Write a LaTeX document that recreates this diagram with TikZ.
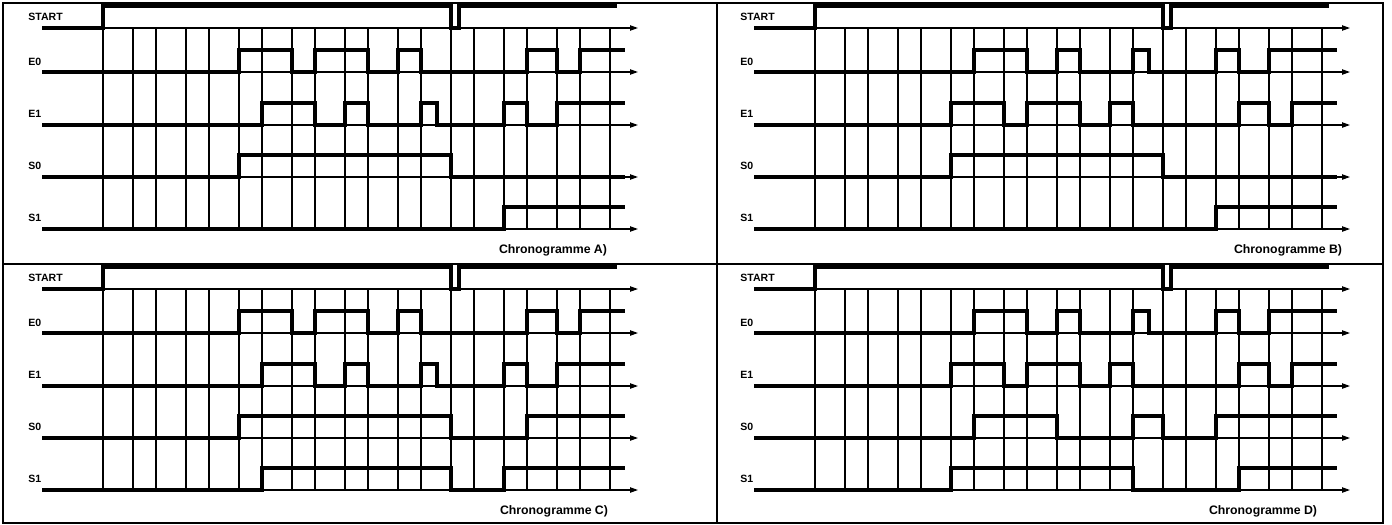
\documentclass[tikz,border=0pt]{standalone}
\usepackage{fontspec}
\setmainfont{Liberation Sans}
\usetikzlibrary{arrows.meta}

\tikzset{
  frame/.style={black, line width=0.8pt},
  tick/.style={black, line width=0.8pt},
  axis/.style={black, line width=0.7pt, -{Triangle[length=4.5pt,width=3pt]}},
  sig/.style={black, line width=2pt, line join=miter},
  lbl/.style={font=\fontsize{6}{7}\selectfont\bfseries, anchor=west, inner sep=0pt},
  caption/.style={font=\fontsize{7}{8}\selectfont\bfseries, inner sep=0pt}
}

\begin{document}
\begin{tikzpicture}[x=0.02cm, y=-0.02cm]
  \useasboundingbox (0,0) rectangle (1392,524);
  \draw[frame] (3,3) rectangle (1383,523);
  \draw[frame] (717,3) -- (717,523);
  \draw[frame] (3,264) -- (1383,264);

  \foreach \dx/\dy/\p/\cx in {0/0/A/553, 712/0/B/576, 0/261/C/554, 712/261/D/551} {
    \begin{scope}[shift={(\dx,\dy)}]
      \node[lbl] (start\p) at (28,17) {START};
      \node[lbl] (ezero\p) at (28,62) {E0};
      \node[lbl] (eone\p) at (28,114) {E1};
      \node[lbl] (szero\p) at (28,166) {S0};
      \node[lbl] (sone\p) at (28,218) {S1};
      \node[caption] (chrono\p) at (\cx,250) {Chronogramme \p)};
      \foreach \k in {0,...,9} {
        \draw[tick] (103+53*\k,28) -- (103+53*\k,229);
        \draw[tick] (133+53*\k,28) -- (133+53*\k,229);
      }
      \foreach \y in {28,72,125,177,229}
        \draw[axis] (42,\y) -- (638,\y);
      \draw[sig] (42,28) -| (103,6) -| (451,28) -| (459,6) -- (617,6);
    \end{scope}
  }

  % A
  \draw[sig] (42,72) -| (239,50) -| (292,72) -| (315,50) -| (368,72) -| (398,50) -| (421,72) -| (527,50) -| (557,72) -| (580,50) -- (625,50);
  \draw[sig] (42,125) -| (262,103) -| (315,125) -| (345,103) -| (368,125) -| (421,103) -| (437,125) -| (504,103) -| (527,125) -| (557,103) -- (625,103);
  \draw[sig] (42,177) -| (239,155) -| (451,177) -- (625,177);
  \draw[sig] (42,229) -| (504,207) -- (625,207);

  % B
  \begin{scope}[xshift=712*0.02cm]
    \draw[sig] (42,72) -| (262,50) -| (315,72) -| (345,50) -| (368,72) -| (421,50) -| (437,72) -| (504,50) -| (527,72) -| (557,50) -- (625,50);
    \draw[sig] (42,125) -| (239,103) -| (292,125) -| (315,103) -| (368,125) -| (398,103) -| (421,125) -| (527,103) -| (557,125) -| (580,103) -- (625,103);
    \draw[sig] (42,177) -| (239,155) -| (451,177) -- (625,177);
    \draw[sig] (42,229) -| (504,207) -- (625,207);
  \end{scope}

  % C
  \begin{scope}[yshift=-261*0.02cm]
    \draw[sig] (42,72) -| (239,50) -| (292,72) -| (315,50) -| (368,72) -| (398,50) -| (421,72) -| (527,50) -| (557,72) -| (580,50) -- (625,50);
    \draw[sig] (42,125) -| (262,103) -| (315,125) -| (345,103) -| (368,125) -| (421,103) -| (437,125) -| (504,103) -| (527,125) -| (557,103) -- (625,103);
    \draw[sig] (42,177) -| (239,155) -| (451,177) -| (527,155) -- (625,155);
    \draw[sig] (42,229) -| (262,207) -| (451,229) -| (504,207) -- (625,207);
  \end{scope}

  % D
  \begin{scope}[xshift=712*0.02cm, yshift=-261*0.02cm]
    \draw[sig] (42,72) -| (262,50) -| (315,72) -| (345,50) -| (368,72) -| (421,50) -| (437,72) -| (504,50) -| (527,72) -| (557,50) -- (625,50);
    \draw[sig] (42,125) -| (239,103) -| (292,125) -| (315,103) -| (368,125) -| (398,103) -| (421,125) -| (527,103) -| (557,125) -| (580,103) -- (625,103);
    \draw[sig] (42,177) -| (262,155) -| (345,177) -| (421,155) -| (451,177) -| (504,155) -- (625,155);
    \draw[sig] (42,229) -| (239,207) -| (421,229) -| (527,207) -- (625,207);
  \end{scope}
\end{tikzpicture}
\end{document}
